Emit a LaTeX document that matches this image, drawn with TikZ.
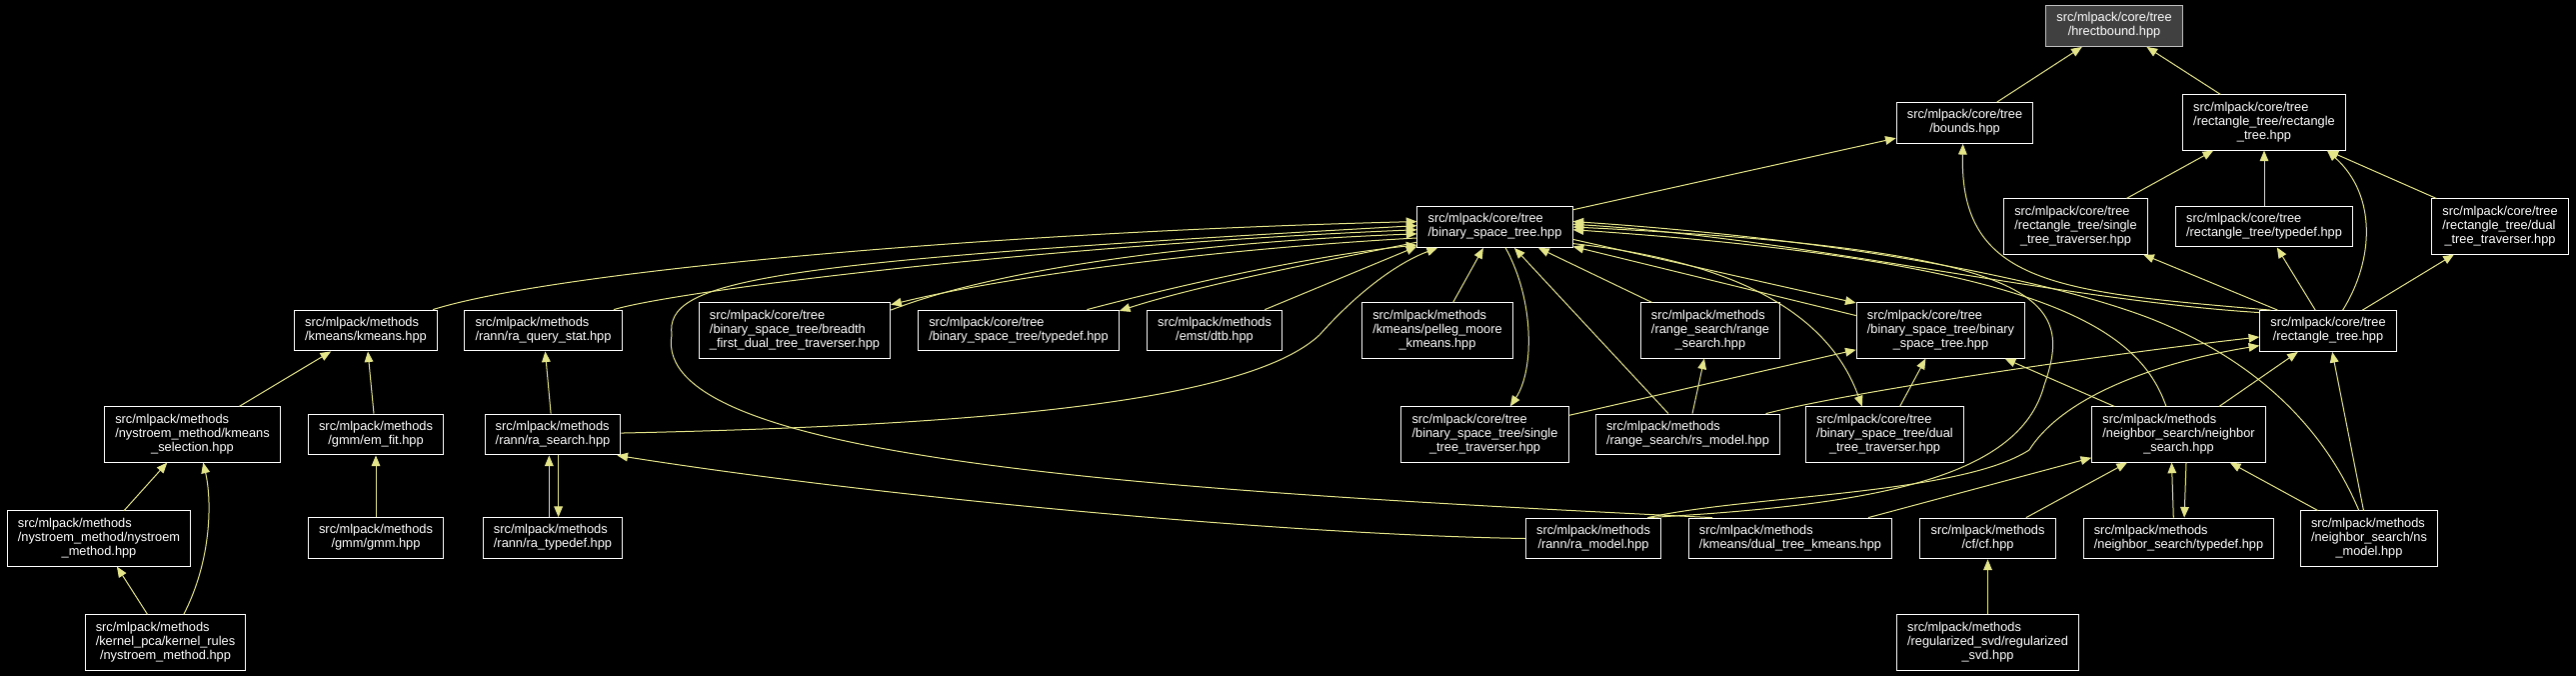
\documentclass[tikz,border=0pt]{standalone}
\usepackage{fontspec}
\setmainfont{Liberation Sans}
\usepackage{tikz}
\usetikzlibrary{arrows.meta}
\definecolor{edgeyellow}{RGB}{228,228,136}
\definecolor{rootgray}{RGB}{64,64,64}
\definecolor{rootline}{RGB}{191,191,191}
\newcommand{\fpath}[2]{\begin{tabular}{@{}l@{}}#1\\\multicolumn{1}{@{}c@{}}{#2}\end{tabular}}

\begin{document}
\begin{tikzpicture}[x=0.75pt,y=0.75pt,
	incfile/.style={rectangle,draw=white,fill=black,text=white,line width=0.75pt,
		inner xsep=8pt,inner ysep=4.6pt,font=\fontsize{9.6}{10.7}\selectfont},
	dep/.style={draw=edgeyellow,line width=0.75pt,-{Triangle[length=8pt,width=6.5pt]}}]
	\path[use as bounding box,fill=black] (0,0) rectangle (2577,-676);

	\node [incfile,fill=rootgray,draw=rootline] (hrect) at (2115,-26) {\fpath{src/mlpack/core/tree}{/hrectbound.hpp}};
	\node [incfile] (bounds) at (1965.5,-123) {\fpath{src/mlpack/core/tree}{/bounds.hpp}};
	\node [incfile] (rtrect) at (2265,-122.5) {\fpath{src/mlpack/core/tree\\/rectangle\_tree/rectangle}{\_tree.hpp}};
	\node [incfile] (bst) at (1495.5,-227) {\fpath{src/mlpack/core/tree}{/binary\_space\_tree.hpp}};
	\node [incfile] (rtsingle) at (2076.5,-226.5) {\fpath{src/mlpack/core/tree\\/rectangle\_tree/single}{\_tree\_traverser.hpp}};
	\node [incfile] (rttypedef) at (2265,-226.5) {\fpath{src/mlpack/core/tree}{/rectangle\_tree/typedef.hpp}};
	\node [incfile] (rtdual) at (2501,-226.5) {\fpath{src/mlpack/core/tree\\/rectangle\_tree/dual}{\_tree\_traverser.hpp}};

	\node [incfile] (kmeans) at (366,-330.5) {\fpath{src/mlpack/methods}{/kmeans/kmeans.hpp}};
	\node [incfile] (rqstat) at (543.5,-330.5) {\fpath{src/mlpack/methods}{/rann/ra\_query\_stat.hpp}};
	\node [incfile] (bfirst) at (795,-330.5) {\fpath{src/mlpack/core/tree\\/binary\_space\_tree/breadth}{\_first\_dual\_tree\_traverser.hpp}};
	\node [incfile] (bsttypedef) at (1019,-330.5) {\fpath{src/mlpack/core/tree}{/binary\_space\_tree/typedef.hpp}};
	\node [incfile] (dtb) at (1215,-330.5) {\fpath{src/mlpack/methods}{/emst/dtb.hpp}};
	\node [incfile] (pelleg) at (1438,-330.5) {\fpath{src/mlpack/methods\\/kmeans/pelleg\_moore}{\_kmeans.hpp}};
	\node [incfile] (rsearch) at (1711,-330.5) {\fpath{src/mlpack/methods\\/range\_search/range}{\_search.hpp}};
	\node [incfile] (bstbst) at (1941.5,-330.5) {\fpath{src/mlpack/core/tree\\/binary\_space\_tree/binary}{\_space\_tree.hpp}};
	\node [incfile] (rtree) at (2329,-331) {\fpath{src/mlpack/core/tree}{/rectangle\_tree.hpp}};

	\node [incfile] (kmsel) at (192.5,-434.5) {\fpath{src/mlpack/methods\\/nystroem\_method/kmeans}{\_selection.hpp}};
	\node [incfile] (emfit) at (376,-434.5) {\fpath{src/mlpack/methods}{/gmm/em\_fit.hpp}};
	\node [incfile] (rasearch) at (553,-434.5) {\fpath{src/mlpack/methods}{/rann/ra\_search.hpp}};
	\node [incfile] (bstsingle) at (1485.5,-434.5) {\fpath{src/mlpack/core/tree\\/binary\_space\_tree/single}{\_tree\_traverser.hpp}};
	\node [incfile] (rsmodel) at (1688.5,-434.5) {\fpath{src/mlpack/methods}{/range\_search/rs\_model.hpp}};
	\node [incfile] (bstdual) at (1885.5,-434.5) {\fpath{src/mlpack/core/tree\\/binary\_space\_tree/dual}{\_tree\_traverser.hpp}};
	\node [incfile] (nsearch) at (2179.5,-434.5) {\fpath{src/mlpack/methods\\/neighbor\_search/neighbor}{\_search.hpp}};

	\node [incfile] (nysmeth) at (99,-538.5) {\fpath{src/mlpack/methods\\/nystroem\_method/nystroem}{\_method.hpp}};
	\node [incfile] (gmm) at (376,-538) {\fpath{src/mlpack/methods}{/gmm/gmm.hpp}};
	\node [incfile] (ratypedef) at (553,-538) {\fpath{src/mlpack/methods}{/rann/ra\_typedef.hpp}};
	\node [incfile] (ramodel) at (1594,-538.5) {\fpath{src/mlpack/methods}{/rann/ra\_model.hpp}};
	\node [incfile] (dtkmeans) at (1791,-538.5) {\fpath{src/mlpack/methods}{/kmeans/dual\_tree\_kmeans.hpp}};
	\node [incfile] (cf) at (1988.5,-538.5) {\fpath{src/mlpack/methods}{/cf/cf.hpp}};
	\node [incfile] (nstypedef) at (2179.5,-538.5) {\fpath{src/mlpack/methods}{/neighbor\_search/typedef.hpp}};
	\node [incfile] (nsmodel) at (2370,-538.5) {\fpath{src/mlpack/methods\\/neighbor\_search/ns}{\_model.hpp}};

	\node [incfile] (kernrules) at (165.5,-642.5) {\fpath{src/mlpack/methods\\/kernel\_pca/kernel\_rules}{/nystroem\_method.hpp}};
	\node [incfile] (regsvd) at (1988.5,-642.5) {\fpath{src/mlpack/methods\\/regularized\_svd/regularized}{\_svd.hpp}};

	\draw [dep] (bounds) -- (hrect);
	\draw [dep] (rtrect) -- (hrect);
	\draw [dep] (bst) -- (bounds);
	\draw [dep] (rtree.160) .. controls (2060,-292) and (1960,-285) .. (bounds.-95);
	\draw [dep] (rtsingle) -- (rtrect);
	\draw [dep] (rttypedef) -- (rtrect);
	\draw [dep] (rtdual) -- (rtrect);
	\draw [dep] (rtree.55) .. controls (2375,-260) and (2378,-195) .. (rtrect.-24);
	\draw [dep] (rtree) -- (rtsingle);
	\draw [dep] (rtree) -- (rttypedef);
	\draw [dep] (rtree) -- (rtdual);
	\draw [dep] (rtree.165) .. controls (2060,-300) and (1800,-238) .. (bst.2);

	\draw [dep] (kmeans) .. controls (560,-270) and (1000,-232) .. (bst.176);
	\draw [dep] (rqstat) .. controls (680,-290) and (1050,-245) .. (bst.182);
	\draw [dep] (dtkmeans.165) .. controls (1150,-490) and (650,-460) .. (672,-335)
		.. controls (665,-280) and (760,-262) .. (bst.179);
	\draw [dep] (bst.188) .. controls (1200,-250) and (1000,-278) .. (bfirst.15);
	\draw [dep] (bfirst.12) .. controls (1000,-268) and (1200,-242) .. (bst.185);
	\draw [dep] (bst.191) .. controls (1320,-262) and (1200,-285) .. (bsttypedef.11);
	\draw [dep] (bsttypedef.17) .. controls (1200,-280) and (1320,-255) .. (bst.193);
	\draw [dep] (dtb) -- (bst.-166);
	\draw [dep] (rasearch) .. controls (1000,-425) and (1250,-400) .. (1320,-335)
		.. controls (1360,-290) and (1400,-262) .. (bst.-160);
	\draw [dep] (pelleg) -- (bst);
	\draw [dep] (bst.-63) .. controls (1535,-300) and (1535,-370) .. (bstsingle.48);
	\draw [dep] (rsmodel) -- (bst);
	\draw [dep] (rsearch) -- (bst);
	\draw [dep] (rsmodel) -- (rsearch);
	\draw [dep] (bst.-9) -- (bstbst.162);
	\draw [dep] (bstbst.170) -- (bst.-14);
	\draw [dep] (bst.-12) .. controls (1740,-262) and (1830,-315) .. (bstdual.129);
	\draw [dep] (bstdual) -- (bstbst);
	\draw [dep] (bstsingle) -- (bstbst);
	\draw [dep] (rsmodel.15) .. controls (1850,-392) and (2100,-355) .. (rtree.185);

	\draw [dep] (ramodel.21) .. controls (1750,-495) and (1960,-495) .. (2030,-450)
		.. controls (2065,-395) and (2160,-362) .. (rtree.192);
	\draw [dep] (ramodel.21) .. controls (1870,-505) and (2020,-480) .. (2045,-385)
		.. controls (2075,-300) and (2050,-250) .. (bst.0);
	\draw [dep] (nsearch.114) .. controls (2140,-330) and (2050,-262) .. (bst.-2);
	\draw [dep] (nsmodel.110) .. controls (2330,-440) and (2270,-365) .. (2150,-318)
		.. controls (2050,-280) and (1850,-240) .. (bst.4);
	\draw [dep] (nsearch) -- (bstbst);
	\draw [dep] (nsearch) -- (rtree);
	\draw [dep] (nstypedef.104) -- (nsearch.-104);
	\draw [dep] (nsearch.-75) -- (nstypedef.75);
	\draw [dep] (cf) -- (nsearch);
	\draw [dep] (nsmodel) -- (nsearch);
	\draw [dep] (nsmodel) -- (rtree);
	\draw [dep] (dtkmeans) -- (nsearch);
	\draw [dep] (regsvd) -- (cf);

	\draw [dep] (ramodel.west) .. controls (1300,-535) and (900,-500) .. (rasearch.-18);
	\draw [dep] (ratypedef.100) -- (rasearch.-100);
	\draw [dep] (rasearch.-75) -- (ratypedef.75);
	\draw [dep] (rasearch) -- (rqstat);
	\draw [dep] (emfit) -- (kmeans);
	\draw [dep] (gmm) -- (emfit);
	\draw [dep] (kmsel) -- (kmeans);
	\draw [dep] (nysmeth) -- (kmsel);
	\draw [dep] (kernrules) -- (nysmeth);
	\draw [dep] (kernrules.57) .. controls (212,-560) and (212,-500) .. (kmsel.-69);
\end{tikzpicture}
\end{document}
